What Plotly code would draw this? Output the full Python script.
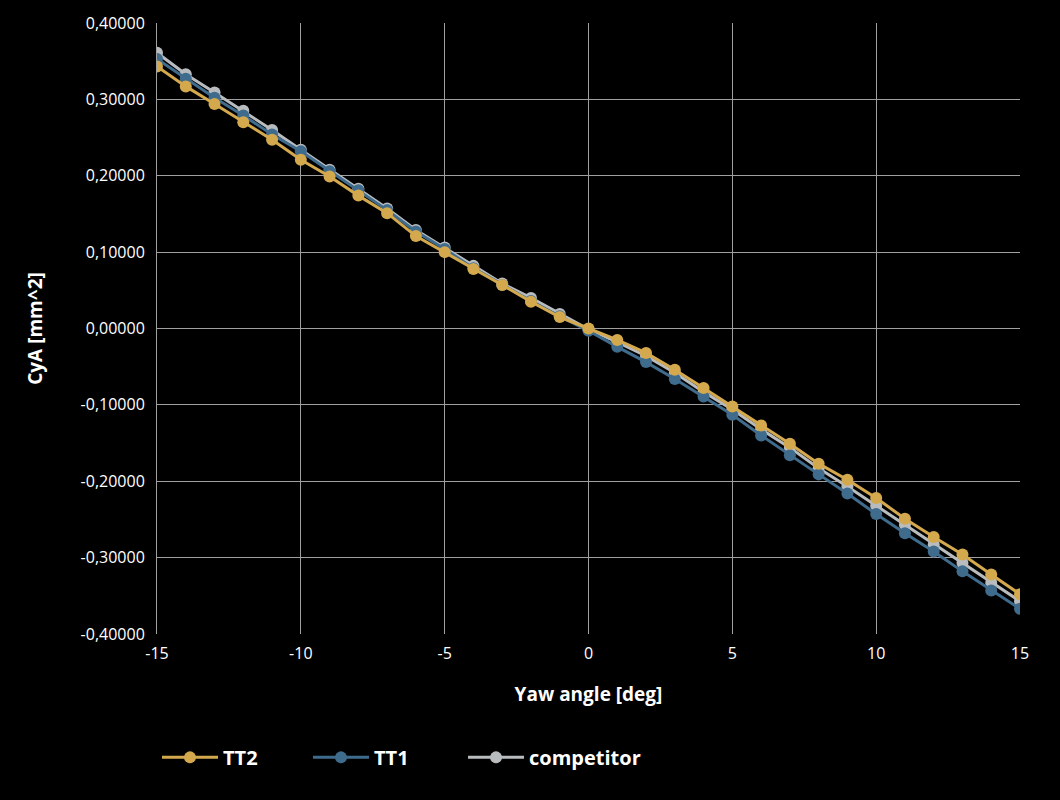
import plotly.graph_objects as go

yaw = list(range(-15, 16))

tt2 = [0.343, 0.317, 0.294, 0.270, 0.247, 0.221, 0.199, 0.174, 0.151, 0.121,
       0.100, 0.078, 0.057, 0.035, 0.015, 0.000, -0.015, -0.032, -0.054, -0.078,
       -0.102, -0.127, -0.151, -0.177, -0.198, -0.222, -0.249, -0.273, -0.296,
       -0.322, -0.348]
tt1 = [0.353, 0.327, 0.302, 0.279, 0.254, 0.232, 0.206, 0.181, 0.155, 0.127,
       0.104, 0.079, 0.057, 0.036, 0.016, -0.003, -0.024, -0.044, -0.066, -0.089,
       -0.113, -0.140, -0.166, -0.191, -0.216, -0.243, -0.268, -0.292, -0.318,
       -0.343, -0.367]
competitor = [0.361, 0.333, 0.309, 0.285, 0.260, 0.234, 0.208, 0.183, 0.157, 0.129,
              0.106, 0.082, 0.059, 0.040, 0.019, -0.001, -0.018, -0.036, -0.058, -0.083,
              -0.106, -0.132, -0.156, -0.183, -0.207, -0.232, -0.257, -0.283, -0.307,
              -0.333, -0.357]

x_ticks = [-15, -10, -5, 0, 5, 10, 15]
y_ticks = [-0.4, -0.3, -0.2, -0.1, 0.0, 0.1, 0.2, 0.3, 0.4]

x_ticktext = [str(v) for v in x_ticks]
y_ticktext = [("%.5f" % v).replace(".", ",") for v in y_ticks]

series = [
    ("competitor", competitor, "#B9BCBF", "legend2"),
    ("TT1", tt1, "#3F6B8C", "legend"),
    ("TT2", tt2, "#D4A94E", "legend"),
]

font = "Open Sans"
grid = "#a0a0a0"
fig = go.Figure()
for name, vals, col, lg in series:
    fig.add_trace(go.Scatter(
        x=yaw, y=vals, name=name, mode="lines+markers",
        line=dict(color=col, width=3),
        marker=dict(color=col, size=12),
        legend=lg,
    ))

legend_common = dict(
    orientation="h", xanchor="left", y=-0.17, yanchor="top",
    font=dict(size=20, family=font, weight="bold"),
    itemwidth=56, bgcolor="rgba(0,0,0,0)",
)

fig.update_layout(
    width=1060, height=800,
    paper_bgcolor="black", plot_bgcolor="black",
    margin=dict(l=157, r=40, t=21, b=166),
    font=dict(family=font, color="white", size=16),
    xaxis=dict(
        range=[-15, 15], tickmode="array", tickvals=x_ticks, ticktext=x_ticktext,
        showgrid=True, gridcolor=grid, gridwidth=1,
        zeroline=False, showline=False, ticks="", ticklabelstandoff=8,
        title=dict(text="<b>Yaw angle [deg]</b>", font=dict(size=19, family=font), standoff=24),
        tickfont=dict(size=16),
    ),
    yaxis=dict(
        range=[-0.4, 0.4], tickmode="array", tickvals=y_ticks, ticktext=y_ticktext,
        showgrid=True, gridcolor=grid, gridwidth=1,
        zeroline=False, showline=True, linecolor=grid, linewidth=1,
        ticks="", ticklabelstandoff=8,
        title=dict(text="<b>CyA [mm^2]</b>", font=dict(size=19, family=font), standoff=32),
        tickfont=dict(size=16),
    ),
    legend=dict(x=0.0, traceorder="reversed", entrywidth=80, entrywidthmode="pixels",
                **legend_common),
    legend2=dict(x=0.3546, **legend_common),
)

fig.write_html("out.html")
